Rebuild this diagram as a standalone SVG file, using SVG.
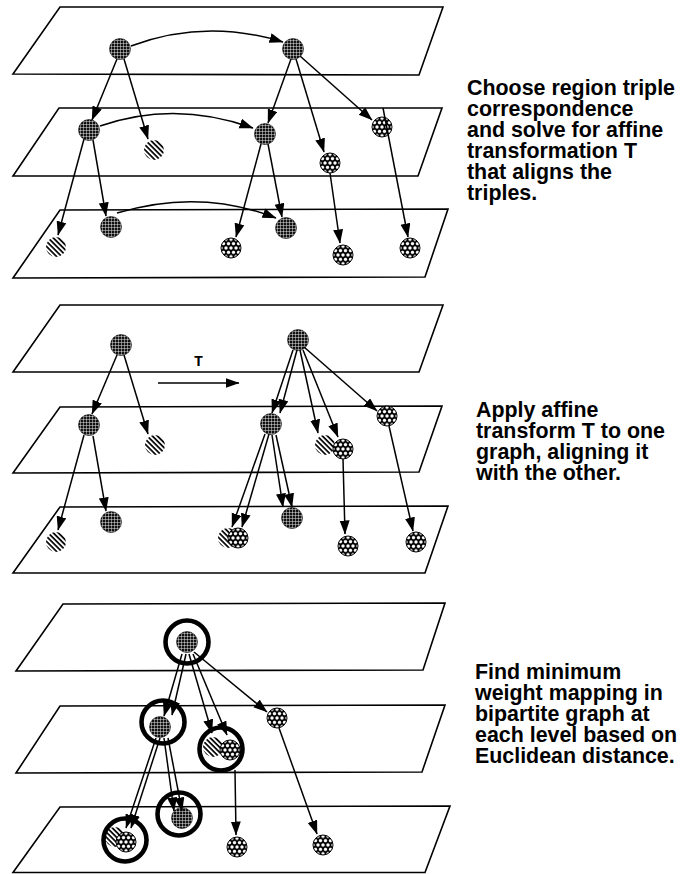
<svg xmlns="http://www.w3.org/2000/svg" width="688" height="874" viewBox="0 0 688 874">
  <style>
    .plane { fill: #fff; stroke: #000; stroke-width: 1.6; stroke-linejoin: miter; }
    .edge { fill: none; stroke: #000; stroke-width: 1.5; marker-end: url(#arrow); }
    .grid { fill: url(#grid); stroke: #111; stroke-width: 0.6; }
    .hatch { fill: url(#hatch); }
    .cells { fill: url(#cells); stroke: #000; stroke-width: 1; }
    .ring { fill: none; stroke: #000; stroke-width: 4.6; }
    .caption { font-family: "Liberation Sans", Arial, Helvetica, sans-serif; font-weight: bold; font-size: 21.4px; fill: #000; }
    .label { font-family: "Liberation Mono", "Courier New", monospace; font-weight: bold; font-size: 15px; fill: #000; }
  </style>
  <defs>
    <!-- dark disc crossed by a fine white grid -->
    <pattern id="grid" width="3" height="3" patternUnits="userSpaceOnUse">
      <rect width="3" height="3" fill="#111"/>
      <path d="M0,0.3H3M0.3,0V3" stroke="#fff" stroke-width="0.55"/>
    </pattern>
    <!-- diagonal stripes -->
    <pattern id="hatch" width="3.6" height="3.6" patternUnits="userSpaceOnUse" patternTransform="rotate(-45)">
      <rect width="3.6" height="3.6" fill="#fff"/>
      <line x1="0.9" y1="0" x2="0.9" y2="3.6" stroke="#000" stroke-width="1.7"/>
    </pattern>
    <!-- black disc with white honeycomb cells -->
    <pattern id="cells" width="5" height="8.66" patternUnits="userSpaceOnUse">
      <rect width="5" height="8.66" fill="#000"/>
      <g fill="#fff">
        <circle cx="0" cy="0" r="1.7"/>
        <circle cx="5" cy="0" r="1.7"/>
        <circle cx="2.5" cy="4.33" r="1.7"/>
        <circle cx="0" cy="8.66" r="1.7"/>
        <circle cx="5" cy="8.66" r="1.7"/>
      </g>
    </pattern>
    <marker id="arrow" markerUnits="userSpaceOnUse" markerWidth="15" markerHeight="11" refX="13.5" refY="5" orient="auto">
      <path d="M0,0 L14,5 L0,10 z" fill="#000"/>
    </marker>
  </defs>

  <rect width="688" height="874" fill="#fff"/>

  <!-- ===== Panel 1: triple correspondence ===== -->
  <g id="p1-planes">
    <polygon class="plane" points="60,7 443,7 419,75 13,74"/>
    <polygon class="plane" points="59,108 442,108 418,176 13,176"/>
    <polygon class="plane" points="60,210 448,209 425,277 13,278"/>
  </g>
  <g id="p1-nodes">
    <g id="p1-a" transform="translate(120,49)"><circle r="10.5" class="grid"/></g>
    <g id="p1-b" transform="translate(293,49)"><circle r="10.5" class="grid"/></g>
    <g id="p1-c" transform="translate(89,130)"><circle r="10.5" class="grid"/></g>
    <g id="p1-d" transform="translate(154,150)"><circle r="10" class="hatch"/></g>
    <g id="p1-e" transform="translate(265,134)"><circle r="10.5" class="grid"/></g>
    <g id="p1-f" transform="translate(382,127)"><circle r="10" class="cells"/></g>
    <g id="p1-g" transform="translate(330,163)"><circle r="10" class="cells"/></g>
    <g id="p1-h" transform="translate(56,247)"><circle r="10" class="hatch"/></g>
    <g id="p1-i" transform="translate(111,227)"><circle r="10.5" class="grid"/></g>
    <g id="p1-j" transform="translate(231,248)"><circle r="10" class="cells"/></g>
    <g id="p1-k" transform="translate(286,228)"><circle r="10.5" class="grid"/></g>
    <g id="p1-l" transform="translate(343,255)"><circle r="10" class="cells"/></g>
    <g id="p1-m" transform="translate(410,248)"><circle r="10" class="cells"/></g>
  </g>
  <g id="p1-connectors">
    <path class="edge" d="M131,46 Q205,18 283,42"/>
    <path class="edge" d="M117,59 L92,120"/>
    <path class="edge" d="M124,59 L148,139"/>
    <path class="edge" d="M291,59 L268,123"/>
    <path class="edge" d="M296,59 L324,152"/>
    <path class="edge" d="M300,56 L372,120"/>
    <path class="edge" d="M100,126 Q175,100 253,128"/>
    <path class="edge" d="M84,139 L58,235"/>
    <path class="edge" d="M93,140 L106,216"/>
    <path class="edge" d="M261,144 L236,237"/>
    <path class="edge" d="M268,144 L282,217"/>
    <path class="edge" d="M117,213 Q200,188 276,218"/>
    <path class="edge" d="M330,173 L340,243"/>
    <path class="edge" d="M383,108 L408,237"/>
  </g>
  <g id="p1-caption" class="caption">
    <text x="467" y="95">Choose region triple</text>
    <text x="467" y="116">correspondence</text>
    <text x="467" y="137">and solve for affine</text>
    <text x="467" y="158">transformation T</text>
    <text x="467" y="179">that aligns the</text>
    <text x="467" y="200">triples.</text>
  </g>

  <!-- ===== Panel 2: apply transform ===== -->
  <g id="p2-planes">
    <polygon class="plane" points="60,305 443,305 419,372 13,372"/>
    <polygon class="plane" points="60,407 442,406 419,472 13,473"/>
    <polygon class="plane" points="60,507 448,506 425,573 13,573"/>
  </g>
  <g id="p2-nodes">
    <g id="p2-a" transform="translate(121,345)"><circle r="10.5" class="grid"/></g>
    <g id="p2-b" transform="translate(298,340)"><circle r="10.5" class="grid"/></g>
    <g id="p2-c" transform="translate(89,425)"><circle r="10.5" class="grid"/></g>
    <g id="p2-d" transform="translate(155,445)"><circle r="10" class="hatch"/></g>
    <g id="p2-e" transform="translate(271,424)"><circle r="10.5" class="grid"/></g>
    <g id="p2-d2" transform="translate(325,445)"><circle r="10" class="hatch"/></g>
    <g id="p2-g" transform="translate(343,449)"><circle r="10" class="cells"/></g>
    <g id="p2-f" transform="translate(387,416)"><circle r="10" class="cells"/></g>
    <g id="p2-h" transform="translate(56,542)"><circle r="10" class="hatch"/></g>
    <g id="p2-i" transform="translate(111,522)"><circle r="10.5" class="grid"/></g>
    <g id="p2-h2" transform="translate(228,538)"><circle r="10" class="hatch"/></g>
    <g id="p2-j" transform="translate(238,538)"><circle r="10" class="cells"/></g>
    <g id="p2-k" transform="translate(292,518)"><circle r="10.5" class="grid"/></g>
    <g id="p2-l" transform="translate(348,546)"><circle r="10" class="cells"/></g>
    <g id="p2-m" transform="translate(416,542)"><circle r="10" class="cells"/></g>
  </g>
  <g id="p2-connectors">
    <path class="edge" d="M117,355 L92,414"/>
    <path class="edge" d="M124,355 L148,434"/>
    <path class="edge" d="M84,435 L58,530"/>
    <path class="edge" d="M93,436 L106,511"/>
    <path class="edge" d="M293,350 L272,413"/>
    <path class="edge" d="M297,350 L280,413"/>
    <path class="edge" d="M300,350 L318,433"/>
    <path class="edge" d="M303,350 L338,437"/>
    <path class="edge" d="M304,347 L377,411"/>
    <path class="edge" d="M265,434 L232,527"/>
    <path class="edge" d="M269,434 L242,527"/>
    <path class="edge" d="M272,435 L283,507"/>
    <path class="edge" d="M276,435 L292,507"/>
    <path class="edge" d="M343,459 L345,534"/>
    <path class="edge" d="M389,426 L413,531"/>
    <path class="edge" d="M158,383 L239,383"/>
  </g>
  <text class="label" x="194" y="366">T</text>
  <g id="p2-caption" class="caption">
    <text x="476" y="417">Apply affine</text>
    <text x="476" y="438">transform T to one</text>
    <text x="476" y="459">graph, aligning it</text>
    <text x="476" y="480">with the other.</text>
  </g>

  <!-- ===== Panel 3: minimum weight mapping ===== -->
  <g id="p3-planes">
    <polygon class="plane" points="63,604 445,603 423,670 16,671"/>
    <polygon class="plane" points="60,706 445,705 422,772 16,773"/>
    <polygon class="plane" points="60,807 450,806 425,872.5 13,872.5"/>
  </g>
  <g id="p3-nodes">
    <g id="p3-root" transform="translate(187,642)"><circle r="10.5" class="grid"/><circle r="21.5" class="ring"/></g>
    <g id="p3-l2a" transform="translate(163,722)"><circle cx="-3" cy="5" r="10.5" class="grid"/><circle r="21.5" class="ring"/></g>
    <g id="p3-l2b-hatch" transform="translate(213,747)"><circle r="10" class="hatch"/></g>
    <g id="p3-l2b-cells" transform="translate(230,750)"><circle r="10" class="cells"/></g>
    <g id="p3-l2b-ring" transform="translate(221,749)"><circle r="21.5" class="ring"/></g>
    <g id="p3-l2c" transform="translate(277,718)"><circle r="10" class="cells"/></g>
    <g id="p3-l3a-hatch" transform="translate(115,837)"><circle r="10" class="hatch"/></g>
    <g id="p3-l3a-cells" transform="translate(126,842)"><circle r="10" class="cells"/></g>
    <g id="p3-l3a-ring" transform="translate(125,840)"><circle r="21.5" class="ring"/></g>
    <g id="p3-l3b" transform="translate(179,814)"><circle cx="3" cy="4" r="10.5" class="grid"/><circle r="21.5" class="ring"/></g>
    <g id="p3-l3c" transform="translate(237,847)"><circle r="10" class="cells"/></g>
    <g id="p3-l3d" transform="translate(323,845)"><circle r="10" class="cells"/></g>
  </g>
  <g id="p3-connectors">
    <path class="edge" d="M182,654 L164,716"/>
    <path class="edge" d="M186,654 L172,715"/>
    <path class="edge" d="M189,654 L212,733"/>
    <path class="edge" d="M193,654 L227,735"/>
    <path class="edge" d="M194,652 L267,712"/>
    <path class="edge" d="M156,738 L126,828"/>
    <path class="edge" d="M160,738 L131,828"/>
    <path class="edge" d="M164,738 L174,811"/>
    <path class="edge" d="M168,738 L182,811"/>
    <path class="edge" d="M235,770 L236,835"/>
    <path class="edge" d="M279,728 L317,834"/>
  </g>
  <g id="p3-caption" class="caption">
    <text x="475" y="679">Find minimum</text>
    <text x="475" y="700">weight mapping in</text>
    <text x="475" y="721">bipartite graph at</text>
    <text x="475" y="742">each level based on</text>
    <text x="475" y="763">Euclidean distance.</text>
  </g>
</svg>
